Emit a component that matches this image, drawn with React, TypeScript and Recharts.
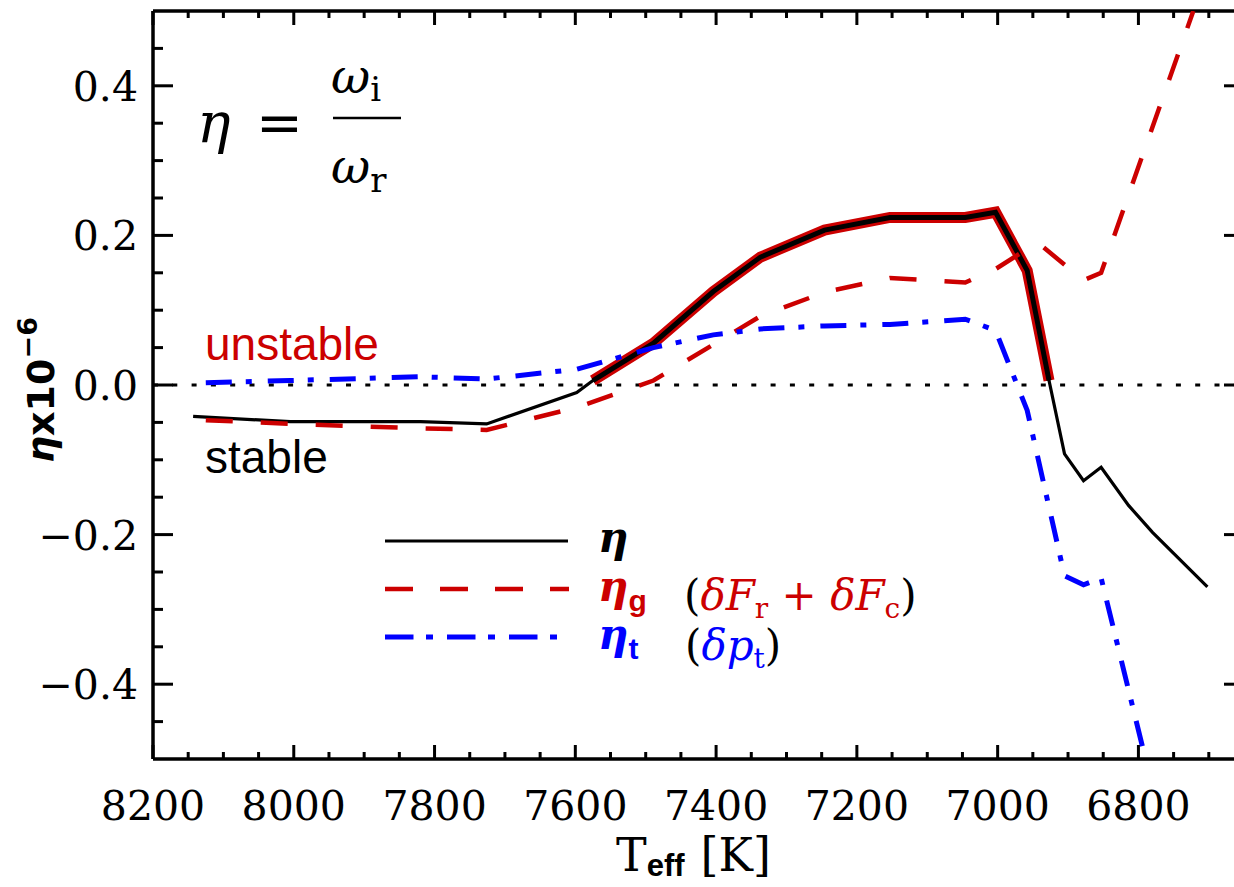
import { LineChart, Line, XAxis, YAxis, ReferenceLine, Legend } from 'recharts';

const CHART_W = 1246;
const CHART_H = 887;
// plot frame in page pixels (the right edge sits just outside the 1234px picture)
const PLOT = { left: 153, right: 1244, top: 11, bottom: 759 };
const RED = '#cc0000';
const BLUE = '#0000ff';
const SERIF = '"DejaVu Serif", serif';
const SANS = '"Liberation Sans", Arial, sans-serif';

const xMajorTicks = [8200, 8000, 7800, 7600, 7400, 7200, 7000, 6800];
const xMinorTicks = [8150, 8100, 8050, 7950, 7900, 7850, 7750, 7700, 7650, 7550, 7500, 7450, 7350, 7300, 7250, 7150, 7100, 7050, 6950, 6900, 6850, 6750, 6700];
const yMajorTicks = [-0.4, -0.2, 0, 0.2, 0.4];
const yMinorTicks = [-0.45, -0.35, -0.3, -0.25, -0.15, -0.1, -0.05, 0.05, 0.1, 0.15, 0.25, 0.3, 0.35, 0.45];

// eta (total growth rate, x1e-6) vs Teff [K]
const etaTeff = [8143, 8005, 7820, 7726, 7598, 7575, 7489, 7404, 7337, 7246, 7153, 7046, 7003, 6958, 6927, 6905, 6878, 6853, 6814, 6780, 6702];
const etaValues = [-0.042, -0.049, -0.049, -0.052, -0.010, 0.006, 0.056, 0.125, 0.171, 0.207, 0.224, 0.224, 0.231, 0.153, 0.006, -0.092, -0.128, -0.110, -0.161, -0.197, -0.270];

// eta_g (delta F_r + delta F_c)
const etaGTeff = [8125, 8005, 7820, 7726, 7598, 7489, 7404, 7337, 7246, 7153, 7046, 7003, 6958, 6940, 6878, 6853, 6722];
const etaGValues = [-0.047, -0.052, -0.058, -0.060, -0.030, 0.006, 0.054, 0.092, 0.124, 0.143, 0.137, 0.155, 0.182, 0.188, 0.140, 0.150, 0.500];

// eta_t (delta p_t)
const etaTTeff = [8125, 8005, 7820, 7726, 7598, 7489, 7404, 7337, 7246, 7153, 7046, 7003, 6958, 6905, 6878, 6853, 6790];
const etaTValues = [0.003, 0.006, 0.011, 0.008, 0.021, 0.050, 0.067, 0.075, 0.079, 0.081, 0.088, 0.073, -0.034, -0.255, -0.267, -0.258, -0.500];

const toRows = (ts: number[], vs: number[]) => ts.map((t, i) => ({ t, v: vs[i] }));
const etaData = toRows(etaTeff, etaValues);
const unstableData = etaData.filter((d) => d.v >= 0);
const etaGData = toRows(etaGTeff, etaGValues);
const etaTData = toRows(etaTTeff, etaTValues);

const isIn = (v: number, list: number[]) => list.some((m) => Math.abs(m - v) < 1e-9);

const fmtY = (v: number) => {
  if (Math.abs(v) < 1e-9) return '0.0';
  return v < 0 ? '\u2212' + Math.abs(v).toFixed(1) : v.toFixed(1);
};

function XTick(props: any) {
  const { x, payload } = props;
  const major = isIn(payload.value, xMajorTicks);
  const len = major ? 14 : 7;
  return (
    <g>
      <line x1={x} x2={x} y1={PLOT.bottom} y2={PLOT.bottom - len} stroke="#000" strokeWidth={3} />
      <line x1={x} x2={x} y1={PLOT.top} y2={PLOT.top + len} stroke="#000" strokeWidth={3} />
      {major && (
        <text x={x} y={820} textAnchor="middle" fontFamily={SERIF} fontSize={41} fill="#000">
          {payload.value}
        </text>
      )}
    </g>
  );
}

function YTick(props: any) {
  const { y, payload } = props;
  const major = isIn(payload.value, yMajorTicks);
  const len = major ? 20 : 10;
  return (
    <g>
      <line x1={PLOT.left} x2={PLOT.left + len} y1={y} y2={y} stroke="#000" strokeWidth={3} />
      <line x1={PLOT.right} x2={PLOT.right - len} y1={y} y2={y} stroke="#000" strokeWidth={3} />
      {major && (
        <text x={PLOT.left - 15} y={y + 15} textAnchor="end" fontFamily={SERIF} fontSize={41} fill="#000">
          {fmtY(payload.value)}
        </text>
      )}
    </g>
  );
}

function LegendBox() {
  return (
    <svg width={560} height={170} style={{ overflow: 'visible', display: 'block' }}>
      <line x1={5} x2={188} y1={26} y2={26} stroke="#000" strokeWidth={3} />
      <line x1={5} x2={189} y1={74} y2={74} stroke={RED} strokeWidth={4.5} strokeDasharray="28 27" />
      <line x1={5} x2={178} y1={122} y2={122} stroke={BLUE} strokeWidth={5} strokeDasharray="28.5 12.5 7 14" />
      <text x={218} y={37} fontFamily={SERIF} fontStyle="italic" fontWeight="bold" fontSize={42} fill="#000">η</text>
      <text x={218} y={86} fontFamily={SERIF} fontStyle="italic" fontWeight="bold" fontSize={42} fill={RED}>
        η<tspan fontFamily={SANS} fontStyle="normal" fontSize={30} dy={10}>g</tspan>
      </text>
      <text x={304} y={95} fontFamily={SERIF} fontSize={42} fill="#000">
        (<tspan fill={RED} fontStyle="italic">δF</tspan>
        <tspan fill={RED} fontSize={28} dy={8}>r</tspan>
        <tspan fill={RED} dy={-8}> + </tspan>
        <tspan fill={RED} fontStyle="italic">δF</tspan>
        <tspan fill={RED} fontSize={28} dy={8}>c</tspan>
        <tspan dy={-8}>)</tspan>
      </text>
      <text x={218} y={134} fontFamily={SERIF} fontStyle="italic" fontWeight="bold" fontSize={42} fill={BLUE}>
        η<tspan fontFamily={SANS} fontStyle="normal" fontSize={30} dy={10}>t</tspan>
      </text>
      <text x={305} y={145} fontFamily={SERIF} fontSize={42} fill="#000">
        (<tspan fill={BLUE} fontStyle="italic">δp</tspan>
        <tspan fill={BLUE} fontSize={28} dy={8}>t</tspan>
        <tspan dy={-8}>)</tspan>
      </text>
    </svg>
  );
}

export default function App() {
  return (
    <div style={{ position: 'absolute', left: 0, top: 0, width: 1234, height: 887, overflow: 'hidden', background: '#fff' }}>
      <LineChart width={CHART_W} height={CHART_H} margin={{ top: PLOT.top, right: CHART_W - PLOT.right, bottom: 68, left: 53 }}>
        <XAxis
          type="number"
          dataKey="t"
          domain={[6650, 8200]}
          reversed
          allowDataOverflow
          ticks={[...xMajorTicks, ...xMinorTicks]}
          interval={0}
          tick={XTick}
          tickLine={false}
          axisLine={{ stroke: '#000', strokeWidth: 3.5 }}
          height={60}
        />
        <YAxis
          type="number"
          domain={[-0.5, 0.5]}
          allowDataOverflow
          ticks={[...yMajorTicks, ...yMinorTicks]}
          interval={0}
          tick={YTick}
          tickLine={false}
          axisLine={{ stroke: '#000', strokeWidth: 3.5 }}
          width={100}
        />
        <ReferenceLine y={0.5} stroke="#000" strokeWidth={3.5} />
        <ReferenceLine y={0} stroke="#000" strokeWidth={3} strokeDasharray="5 14.3" />

        <Line data={unstableData} dataKey="v" type="linear" stroke={RED} strokeWidth={11} dot={false} activeDot={false} isAnimationActive={false} legendType="none" />
        <Line data={unstableData} dataKey="v" type="linear" stroke="#000" strokeWidth={5} dot={false} activeDot={false} isAnimationActive={false} legendType="none" />
        <Line data={etaData} dataKey="v" name="η" type="linear" stroke="#000" strokeWidth={3.2} dot={false} activeDot={false} isAnimationActive={false} />
        <Line data={etaGData} dataKey="v" name="ηg" type="linear" stroke={RED} strokeWidth={4.5} strokeDasharray="27 28" dot={false} activeDot={false} isAnimationActive={false} />
        <Line data={etaTData} dataKey="v" name="ηt" type="linear" stroke={BLUE} strokeWidth={5} strokeDasharray="26 14 6 16" dot={false} activeDot={false} isAnimationActive={false} />

        <Legend
          content={LegendBox}
          layout="horizontal"
          align="center"
          verticalAlign="middle"
          width={560}
          height={170}
          wrapperStyle={{ left: 380, top: 515, width: 560, height: 170 }}
        />

        <g>
          <text x={197} y={142} fontFamily={SERIF} fontStyle="italic" fontSize={56} fill="#000">η</text>
          <text x={256} y={142} fontFamily={SERIF} fontSize={56} fill="#000">=</text>
          <text x={331} y={93} fontFamily={SERIF} fontStyle="italic" fontSize={48} fill="#000">
            ω<tspan fontStyle="normal" fontSize={34} dy={8}>i</tspan>
          </text>
          <line x1={333} x2={401} y1={118} y2={118} stroke="#000" strokeWidth={2.5} />
          <text x={331} y={183} fontFamily={SERIF} fontStyle="italic" fontSize={48} fill="#000">
            ω<tspan fontStyle="normal" fontSize={34} dy={9}>r</tspan>
          </text>
          <text x={205} y={360} fontFamily={SANS} fontSize={46} fill={RED}>unstable</text>
          <text x={205} y={473} fontFamily={SANS} fontSize={46} fill="#000">stable</text>
          <text x={54} y={390} transform="rotate(-90 54 390)" textAnchor="middle" fontFamily='"DejaVu Sans", sans-serif' fontWeight="bold" fontSize={38} fill="#000">
            <tspan fontStyle="italic">η</tspan>x10<tspan fontSize={27} dy={-17}>{'\u22126'}</tspan>
          </text>
          <text x={616} y={871} fontFamily={SERIF} fontSize={46} fill="#000">
            T<tspan fontFamily={SANS} fontWeight="bold" fontSize={31} dy={5}>eff</tspan>
            <tspan dx={16} dy={-5}>[K]</tspan>
          </text>
        </g>
      </LineChart>
    </div>
  );
}
